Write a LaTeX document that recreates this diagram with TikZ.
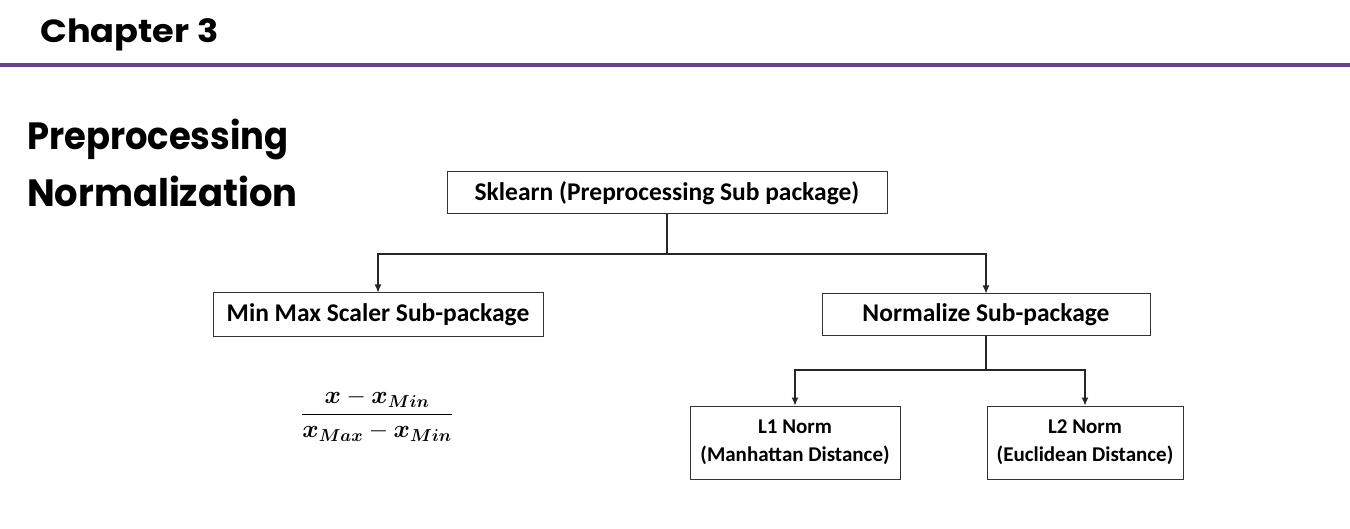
\documentclass[tikz,border=0pt]{standalone}
\usepackage{amsmath}
\usepackage{bm}
\usepackage{fontspec}
\setmainfont{Carlito}
\newfontfamily\headfont{Poppins}[UprightFont=* Bold]
\usetikzlibrary{arrows.meta}
\definecolor{chpurple}{HTML}{6B4090}
\newcommand{\mmformula}{\ensuremath{\dfrac{\bm{x}-\bm{x}_{\bm{Min}}}{\bm{x}_{\bm{Max}}-\bm{x}_{\bm{Min}}}}}
\tikzset{
  box/.style={draw=black!80, line width=1pt, fill=white, inner sep=0pt, font=\fontsize{25.5}{30}\selectfont\bfseries, align=center},
  smallbox/.style={box, font=\fontsize{21}{28}\selectfont\bfseries},
  conn/.style={draw=black!85, line width=1.1pt},
  arr/.style={conn, -{Latex[length=8pt,width=7pt]}},
  heading/.style={anchor=base west, inner sep=0pt, font=\headfont\fontsize{38}{40}\selectfont},
  formula/.style={inner sep=0pt, font=\fontsize{25}{28}\selectfont},
}
\begin{document}
\begin{tikzpicture}[x=1pt,y=-1pt]
\useasboundingbox (0,0) rectangle (1350,529);
\fill[white] (0,0) rectangle (1350,529);
% header
\node[heading, font=\headfont\fontsize{32}{34}\selectfont] (chap) at (40,43) {\scalebox{1.10}[1]{Chapter 3}};
\draw[chpurple, line width=4pt] (0,65.5) -- (1350,65.5);
\node[heading] (pre) at (27,150) {\scalebox{0.93}[1]{Preprocessing}};
\node[heading] (norm) at (27,207) {\scalebox{0.97}[1]{Normalization}};
% boxes
\node[box, minimum width=440pt, minimum height=42pt] (sk) at (667,193) {Sklearn (Preprocessing Sub package)};
\node[box, minimum width=330pt, minimum height=44pt] (mm) at (378,315) {Min Max Scaler Sub-package};
\node[box, minimum width=328pt, minimum height=42pt] (nz) at (986,315) {Normalize Sub-package};
\node[smallbox, minimum width=210pt, minimum height=73pt] (l1) at (795,442.5) {L1 Norm\\(Manhattan Distance)};
\node[smallbox, minimum width=196pt, minimum height=73pt] (l2) at (1085,442.5) {L2 Norm\\(Euclidean Distance)};
% connectors
\coordinate (j1) at (667,254);
\coordinate (j2) at (986,370);
\draw[conn] (sk.south) -- (j1);
\draw[arr] (j1) -| (mm.north);
\draw[arr] (j1) -| (nz.north);
\draw[conn] (nz.south) -- (j2);
\draw[arr] (j2) -| (l1.north);
\draw[arr] (j2) -| (l2.north);
% formula
\node[formula] (frm) at (377,415) {\mmformula};
\end{tikzpicture}
\end{document}
